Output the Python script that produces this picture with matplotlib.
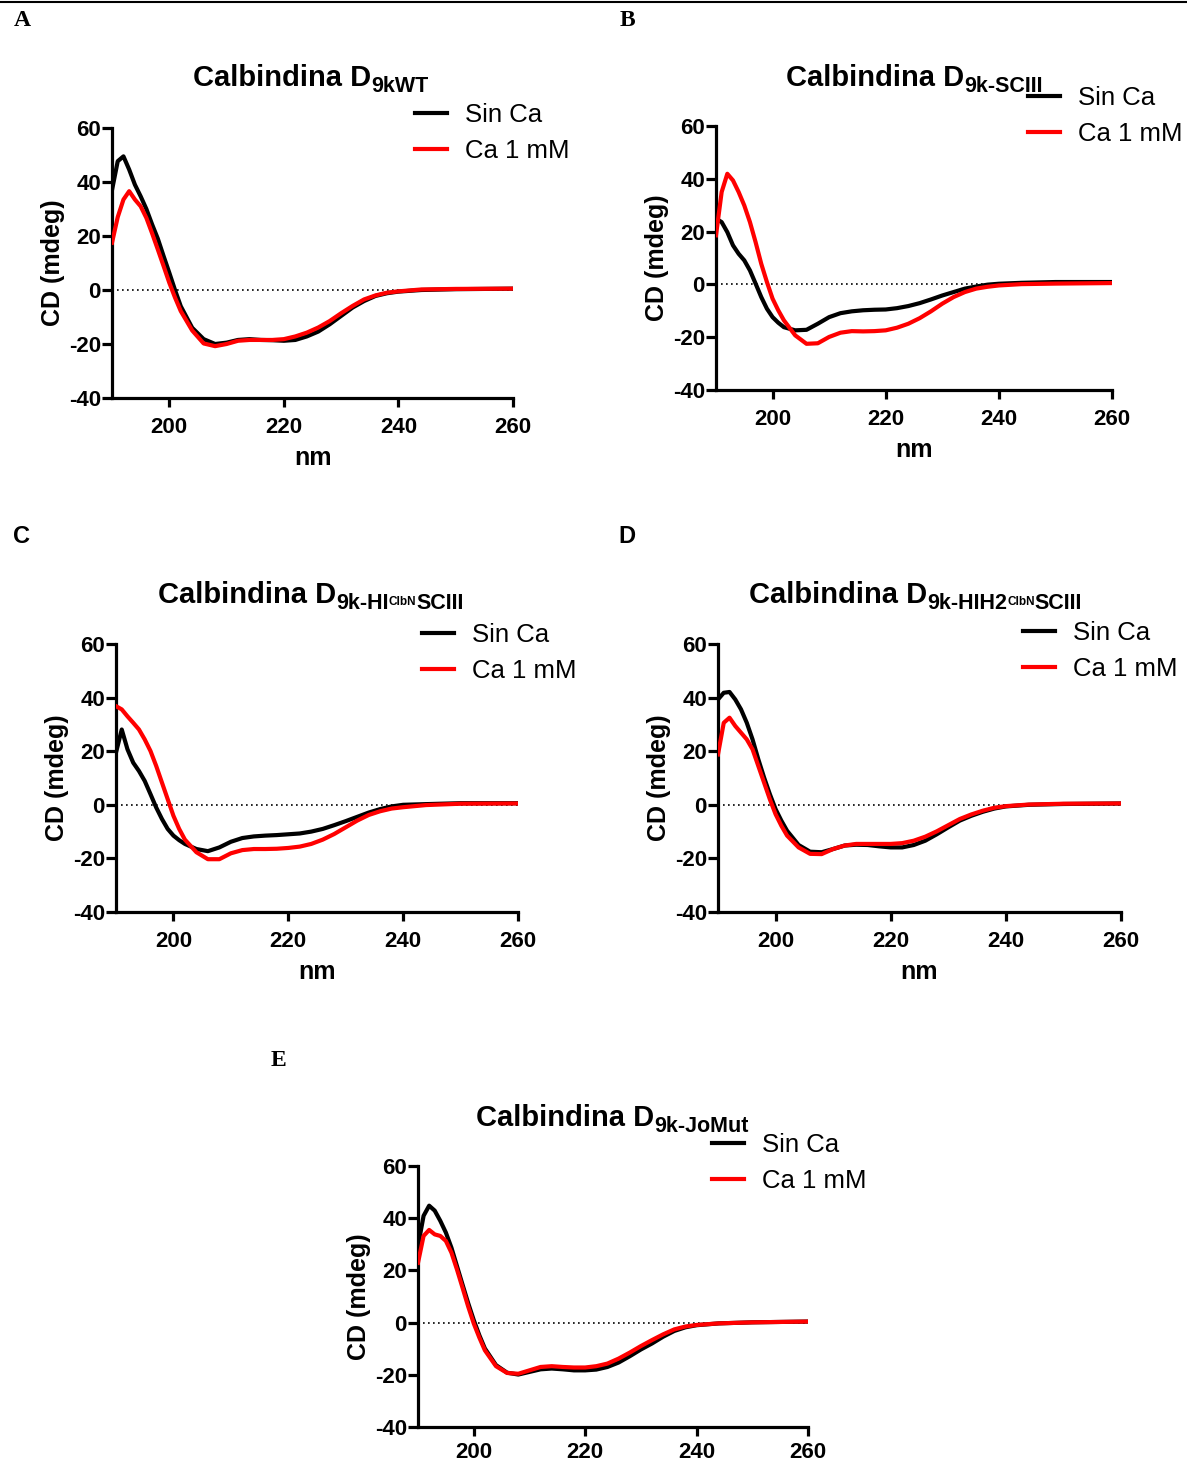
import matplotlib
matplotlib.use("Agg")
import matplotlib.pyplot as plt
from matplotlib.lines import Line2D

plt.rcParams['font.family'] = ['Liberation Sans', 'DejaVu Sans']
plt.rcParams['axes.unicode_minus'] = False

W, H = 1187, 1463

# wavelength grid (nm)
wl = [190, 191, 192, 193, 194, 195, 196, 197, 198, 199, 200, 201, 202,
      204, 206, 208, 210, 212, 214, 216, 218, 220, 222, 224, 226, 228,
      230, 232, 234, 236, 238, 240, 244, 250, 260]

# CD signal (mdeg), without calcium / with 1 mM calcium
wt_sin = [37, 47.7, 49.5, 44.6, 39, 34.7, 30, 24.3, 19, 12.6, 6.4, 0, -6,
          -14, -18.2, -20, -19.5, -18.5, -18.2, -18.5, -18.6, -18.8, -18.5, -17.2, -15.4, -12.7,
          -9.6, -6.5, -4.1, -2.2, -1.2, -0.6, 0, 0.3, 0.5]
wt_ca = [17.5, 27, 33.5, 36.6, 33.5, 31, 26.7, 21, 15, 8.9, 2.7, -2.8, -7.8,
         -15, -19.8, -20.8, -20, -18.8, -18.5, -18.5, -18.5, -18.2, -17.2, -15.8, -13.9, -11.5,
         -8.6, -5.9, -3.5, -2, -1, -0.5, 0.2, 0.4, 0.5]

sc3_sin = [24.9, 23.6, 19.8, 14.8, 11.6, 9.1, 5.3, 0.3, -4.8, -9.2, -12.4, -14.5, -16.2,
           -17.4, -17.2, -14.9, -12.4, -10.9, -10.2, -9.8, -9.6, -9.5, -9, -8.2, -7.1, -5.7,
           -4.2, -2.9, -1.6, -0.8, -0.1, 0.25, 0.6, 0.9, 0.9]
sc3_ca = [18.6, 35, 41.9, 39.4, 35, 29.9, 23.6, 16, 7.8, 0.9, -5.4, -9.8, -13.6,
          -19.3, -22.5, -22.3, -19.9, -18.3, -17.7, -17.8, -17.7, -17.4, -16.4, -14.9, -12.8, -10.2,
          -7.3, -4.8, -2.9, -1.6, -0.9, -0.4, 0.1, 0.3, 0.5]

hi_sin = [19.5, 28.1, 20.7, 15.7, 12.6, 8.9, 4, -1, -5.3, -9, -11.5, -13.2, -14.6,
          -16.5, -17.3, -15.9, -13.8, -12.4, -11.8, -11.5, -11.3, -11, -10.7, -10, -9, -7.6,
          -6.1, -4.5, -2.9, -1.6, -0.6, 0, 0.25, 0.6, 0.6]
hi_ca = [36.8, 35.6, 33, 30.6, 28.1, 24.4, 20.1, 14.5, 8.3, 2.1, -4.1, -9, -13,
         -17.7, -20.3, -20.3, -18.1, -16.9, -16.5, -16.5, -16.4, -16.1, -15.6, -14.6, -13, -10.9,
         -8.4, -5.9, -3.8, -2.4, -1.4, -0.9, -0.1, 0.4, 0.5]

hih2_sin = [39.3, 41.8, 42.1, 39.3, 35.6, 30.6, 24.4, 17, 10.2, 4, -1.6, -5.9, -9.7,
            -15, -17.5, -17.7, -16.5, -15.2, -14.9, -15, -15.5, -15.9, -15.9, -15, -13.4, -11,
            -8.4, -5.9, -4.1, -2.6, -1.4, -0.6, 0, 0.3, 0.5]
hih2_ca = [18.8, 30.6, 32.5, 29.4, 26.9, 24.4, 20.7, 14.5, 8.3, 2.1, -3.5, -7.8, -11.5,
           -15.9, -18.3, -18.4, -16.5, -15.2, -14.6, -14.6, -14.6, -14.6, -14.3, -13.4, -11.9, -9.9,
           -7.6, -5.3, -3.6, -2.2, -1.1, -0.5, 0.1, 0.4, 0.5]

jo_sin = [29.3, 40.9, 44.8, 42.9, 39, 34.5, 28.7, 21.6, 14.5, 7.5, 1, -4.8, -9.9,
          -16.3, -19.2, -19.9, -18.9, -17.9, -17.6, -17.9, -18.3, -18.3, -18, -17, -15.3, -12.9,
          -10.3, -8, -5.4, -3.2, -1.8, -1, -0.3, 0.1, 0.4]
jo_ca = [22.9, 33.2, 35.5, 33.8, 33.2, 31.3, 26.8, 20.3, 13.3, 6.2, -0.3, -5.7, -10.6,
         -16.7, -19.3, -19.6, -18.3, -17, -16.7, -17, -17.2, -17.2, -16.7, -15.7, -13.8, -11.5,
         -9, -6.7, -4.5, -2.6, -1.5, -0.9, -0.3, 0.1, 0.4]

labels = ["Sin Ca", "Ca 1 mM"]
colors = ["#000000", "#ff0000"]

# panel: letter, letter font, axes box (left, top, right, bottom px), letter pos, title start,
# subscript parts, legend anchor, x label shown, x tick pad, data
panels = [
    ("A", "serif", (112, 128, 513, 398), (22, 20), (193, 86), [("9kWT", 15.5, 6)],
     (415, 133), True, 7, wt_sin, wt_ca),
    ("B", "serif", (716, 126, 1112, 390), (627, 20), (786, 86), [("9k-SCIII", 15.5, 6)],
     (1028, 116), True, 7, sc3_sin, sc3_ca),
    ("C", "sans", (116, 644, 518, 912), (22, 536), (158, 603),
     [("9k-HI", 15.5, 6), ("ClbN", 8.5, 2), ("SCIII", 15.5, 6)],
     (422, 653), True, 7, hi_sin, hi_ca),
    ("D", "sans", (718, 644, 1121, 912), (627, 536), (749, 603),
     [("9k-HIH2", 15.5, 6), ("ClbN", 8.5, 2), ("SCIII", 15.5, 6)],
     (1023, 651), True, 7, hih2_sin, hih2_ca),
    ("E", "serif", (418, 1166, 808, 1427), (278, 1060), (476, 1126), [("9k-JoMut", 15.5, 6)],
     (712, 1163), False, 4, jo_sin, jo_ca),
]

fig = plt.figure(figsize=(W / 100, H / 100), dpi=100)
renderer = fig.canvas.get_renderer()

# rule across the top
fig.add_artist(Line2D([0, 1], [1 - 2 / H, 1 - 2 / H], color="black", lw=1.5))


def rich_title(x, y, parts):
    for txt, size, dy in parts:
        t = fig.text(x / W, 1 - (y + dy) / H, txt, fontsize=size, fontweight="bold",
                     ha="left", va="baseline")
        x = t.get_window_extent(renderer).x1


for letter, lfont, box, lpos, tpos, sub, legpos, show_x, xpad, ys_sin, ys_ca in panels:
    l, t, r, b = box
    ax = fig.add_axes([l / W, 1 - b / H, (r - l) / W, (b - t) / H])
    ax.axhline(0, color="black", lw=1.2, ls=(0, (1, 2)), zorder=1)
    ax.plot(wl, ys_sin, color=colors[0], lw=3, label=labels[0], zorder=3)
    ax.plot(wl, ys_ca, color=colors[1], lw=3, label=labels[1], zorder=4)
    ax.set_xlim(190, 260)
    ax.set_ylim(-40, 60)
    ax.set_xticks([200, 220, 240, 260])
    ax.set_yticks([-40, -20, 0, 20, 40, 60])
    for s in ("top", "right"):
        ax.spines[s].set_visible(False)
    for s in ("left", "bottom"):
        ax.spines[s].set_linewidth(2.3)
    ax.tick_params(axis="y", direction="out", length=7, width=2.3, labelsize=16, pad=1)
    ax.tick_params(axis="x", direction="out", length=6.5, width=2.3, labelsize=16, pad=xpad)
    for lab in ax.get_xticklabels() + ax.get_yticklabels():
        lab.set_fontweight("bold")
    ax.set_ylabel("CD (mdeg)", fontsize=18, fontweight="bold", labelpad=3)
    if show_x:
        ax.set_xlabel("nm", fontsize=18, fontweight="bold", labelpad=6)

    ax.legend(loc="center left", bbox_to_anchor=(legpos[0] / W, 1 - legpos[1] / H),
              bbox_transform=fig.transFigure, frameon=False, fontsize=18.5,
              handlelength=1.25, handletextpad=0.7, labelspacing=0.45,
              borderpad=0, borderaxespad=0)

    if lfont == "serif":
        fig.text(lpos[0] / W, 1 - lpos[1] / H, letter, fontsize=17, fontweight="bold",
                 family="Liberation Serif", ha="center", va="center")
    else:
        fig.text(lpos[0] / W, 1 - lpos[1] / H, letter, fontsize=17, fontweight="bold",
                 ha="center", va="center")

    rich_title(tpos[0], tpos[1], [("Calbindina D", 21, 0)] + sub)

fig.savefig("out.png", dpi=100)
